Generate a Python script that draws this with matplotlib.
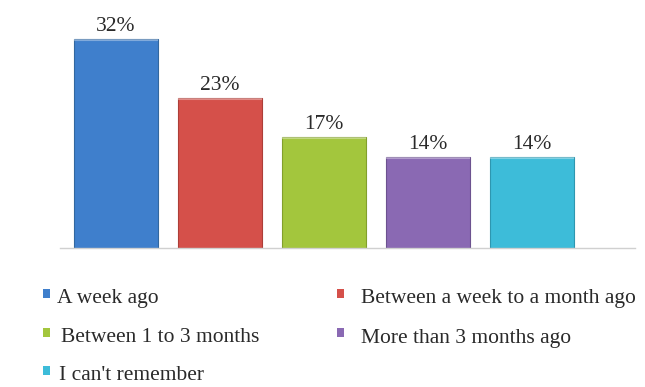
import matplotlib
matplotlib.use("Agg")
import matplotlib.pyplot as plt
from matplotlib.patches import Rectangle

categories = ["A week ago", "Between a week to a month ago", "Between 1 to 3 months",
              "More than 3 months ago", "I can't remember"]
shares = [32, 23, 17, 14, 14]
colors = ["#3f7fcc", "#d5504a", "#a3c63d", "#8a69b3", "#3dbcd9"]
edges = ["#32679f", "#ad3e38", "#82a02c", "#6c528f", "#2e97b0"]

plt.rcParams["font.family"] = ["Liberation Serif", "DejaVu Serif"]

W, H = 645, 387
fig = plt.figure(figsize=(W / 100, H / 100), dpi=100)
ax = fig.add_axes([60 / W, (H - 248) / H, 575 / W, 228.6 / H])

x = range(len(shares))
bars = ax.bar(x, shares, width=0.81, color=colors, edgecolor=edges, linewidth=0.8)
for b, c in zip(bars, colors):
    # light rim along the top of each bar
    ax.plot([b.get_x() + 0.01, b.get_x() + b.get_width() - 0.01],
            [b.get_height() - 0.15] * 2, color="white", alpha=0.35, lw=1.5)

for xi, v in zip(x, shares):
    ax.annotate(f"{v}%", (xi, v), xytext=(0, 2), textcoords="offset points",
                ha="center", va="bottom", fontsize=15.5, color="#2a2a2a")

ax.set_xlim(-0.538, 4.99)
ax.set_ylim(0, 35)
for s in ["top", "left", "right"]:
    ax.spines[s].set_visible(False)
ax.spines["bottom"].set_color("#d0d0d0")
ax.spines["bottom"].set_linewidth(1)
ax.set_xticks([])
ax.set_yticks([])

# legend, two columns
col_x = [43, 337]
text_x = [[57, 61, 59], [361, 361, 361]]
row_y = [299, 338, 376]
for i, (lab, c) in enumerate(zip(categories, colors)):
    col, row = i % 2, i // 2
    fig.patches.append(Rectangle((col_x[col] / W, (H - row_y[row] + 1) / H), 7 / W, 9 / H,
                                 transform=fig.transFigure, facecolor=c, edgecolor="none"))
    fig.text(text_x[col][row] / W, (H - row_y[row]) / H, lab, fontsize=15.5,
             color="#2a2a2a", va="center", ha="left")

fig.savefig("out.png", dpi=100, facecolor="white")
